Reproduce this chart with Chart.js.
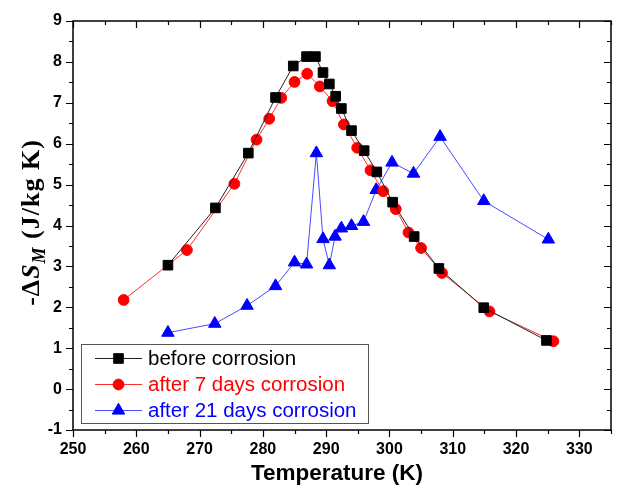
<!DOCTYPE html>
<html>
<head>
<meta charset="utf-8">
<script src="https://cdn.jsdelivr.net/npm/chart.js@4.4.0/dist/chart.umd.min.js"></script>
<style>
  html, body { margin: 0; padding: 0; background: #fff; }
  #wrap { width: 621px; height: 488px; }
</style>
</head>
<body>
<div id="wrap"><canvas id="msChart" width="621" height="488"></canvas></div>
<script>
  // before corrosion
  const tempBefore = [265, 272.5, 277.7, 282.0, 284.8, 286.9, 288.3, 289.5, 290.5, 291.5, 292.4, 294.0, 296.0, 298.0, 300.5, 303.9, 307.8, 314.9, 324.8];
  const dsBefore   = [3.03, 4.43, 5.77, 7.13, 7.90, 8.13, 8.13, 7.74, 7.46, 7.16, 6.86, 6.32, 5.83, 5.31, 4.57, 3.73, 2.95, 1.99, 1.19];

  // after 7 days
  const temp7 = [258, 268, 275.5, 279.0, 281.0, 282.9, 285.0, 287.0, 289.0, 291.0, 292.8, 294.9, 297.0, 299.0, 301.0, 303.0, 305.0, 308.3, 315.8, 325.9];
  const ds7   = [2.18, 3.40, 5.02, 6.10, 6.61, 7.12, 7.51, 7.71, 7.40, 7.04, 6.47, 5.90, 5.35, 4.84, 4.40, 3.83, 3.45, 2.84, 1.90, 1.17];

  // after 21 days
  const temp21 = [265, 272.4, 277.5, 282.0, 285.0, 286.9, 288.45, 289.5, 290.5, 291.4, 292.4, 294.0, 295.9, 297.9, 300.4, 303.8, 308.0, 314.9, 325.1];
  const ds21   = [1.38, 1.60, 2.04, 2.52, 3.10, 3.05, 5.77, 3.67, 3.03, 3.73, 3.93, 3.99, 4.09, 4.87, 5.54, 5.27, 6.17, 4.60, 3.66];

  const seriesNames = ["before corrosion", "after 7 days corrosion", "after 21 days corrosion"];
  const xMin = 250, xMax = 335, yMin = -1, yMax = 9;

  const toPts = (xs, ys) => xs.map((x, i) => ({ x: x, y: ys[i] }));

  const sans = "'Liberation Sans', Arial, sans-serif";
  const serif = "'Liberation Serif', 'Times New Roman', serif";

  // frame, inward/outward ticks, axis titles, boxed legend
  const decor = {
    id: "decor",
    afterDraw(chart) {
      const ctx = chart.ctx;
      const ca = chart.chartArea;
      const xs = chart.scales.x, ys = chart.scales.y;
      ctx.save();
      ctx.strokeStyle = "#000";
      ctx.lineWidth = 1.5;
      ctx.strokeRect(ca.left, ca.top, ca.right - ca.left, ca.bottom - ca.top);
      ctx.lineWidth = 1.2;
      ctx.beginPath();
      for (let v = yMin; v <= yMax + 1e-9; v += 0.5) {
        const py = Math.round(ys.getPixelForValue(v)) + 0.5;
        const len = Number.isInteger(v) ? 7 : 4;
        ctx.moveTo(ca.left - len, py); ctx.lineTo(ca.left, py);
        ctx.moveTo(ca.right - len, py); ctx.lineTo(ca.right, py);
      }
      for (let v = xMin; v <= xMax + 1e-9; v += 5) {
        const px = Math.round(xs.getPixelForValue(v)) + 0.5;
        const len = v % 10 === 0 ? 7 : 4;
        ctx.moveTo(px, ca.bottom); ctx.lineTo(px, ca.bottom + len);
        ctx.moveTo(px, ca.top); ctx.lineTo(px, ca.top + len);
      }
      ctx.stroke();

      // x title
      ctx.fillStyle = "#000";
      ctx.font = "bold 22.5px " + sans;
      ctx.textAlign = "center";
      ctx.textBaseline = "alphabetic";
      ctx.fillText("Temperature (K)", 337, 480);

      // y title: -ΔS_M (J/kg K)
      const parts = [
        { t: "-Δ", f: "bold 26px " + serif, dy: 0 },
        { t: "S", f: "bold italic 26px " + serif, dy: 0 },
        { t: "M", f: "bold italic 18px " + serif, dy: 6 },
        { t: " (J/kg K)", f: "bold 26px " + serif, dy: 0 }
      ];
      ctx.letterSpacing = "1px";
      let total = 0;
      parts.forEach(p => { ctx.font = p.f; p.w = ctx.measureText(p.t).width; total += p.w; });
      ctx.translate(39, (ca.top + ca.bottom) / 2 - 3);
      ctx.rotate(-Math.PI / 2);
      ctx.textAlign = "left";
      let cx = -total / 2;
      parts.forEach(p => { ctx.font = p.f; ctx.fillText(p.t, cx, p.dy); cx += p.w; });
      ctx.setTransform(1, 0, 0, 1, 0, 0);
      ctx.letterSpacing = "0px";

      // legend box
      const bx = 81, by = 344, bw = 287, bh = 79;
      ctx.fillStyle = "#fff";
      ctx.fillRect(bx, by, bw, bh);
      ctx.strokeStyle = "#555";
      ctx.lineWidth = 1;
      ctx.strokeRect(bx + 0.5, by + 0.5, bw, bh);
      chart.data.datasets.forEach((ds, i) => {
        const ry = 358 + i * 26;
        ctx.strokeStyle = ds.borderColor;
        ctx.lineWidth = 1;
        ctx.beginPath();
        ctx.moveTo(95, ry + 0.5); ctx.lineTo(142, ry + 0.5);
        ctx.stroke();
        ctx.fillStyle = ds.pointBackgroundColor;
        ctx.strokeStyle = ds.pointBorderColor;
        Chart.helpers.drawPoint(ctx, { pointStyle: ds.pointStyle, radius: ds.pointRadius, rotation: 0, borderWidth: 1 }, 118.5, ry + 0.5);
        ctx.fillStyle = ds.textColor;
        ctx.font = "20.5px " + sans;
        ctx.textAlign = "left";
        ctx.textBaseline = "middle";
        ctx.fillText(ds.label, 148, ry + 1);
      });
      ctx.restore();
    }
  };

  new Chart(document.getElementById("msChart"), {
    type: "line",
    data: {
      datasets: [{
        label: seriesNames[0],
        data: toPts(tempBefore, dsBefore),
        borderColor: "#222",
        borderWidth: 1,
        pointStyle: "rect",
        pointRadius: 6.8,
        pointBackgroundColor: "#000",
        pointBorderColor: "#000",
        textColor: "#000"
      }, {
        label: seriesNames[1],
        data: toPts(temp7, ds7),
        borderColor: "#ff3030",
        borderWidth: 1,
        pointStyle: "circle",
        pointRadius: 5.4,
        pointBackgroundColor: "#ff0000",
        pointBorderColor: "#ff0000",
        textColor: "#ff0000"
      }, {
        label: seriesNames[2],
        data: toPts(temp21, ds21),
        borderColor: "#4a4aff",
        borderWidth: 1,
        pointStyle: "triangle",
        pointRadius: 7.2,
        pointBackgroundColor: "#0000ff",
        pointBorderColor: "#0000ff",
        textColor: "#0000ff"
      }]
    },
    options: {
      responsive: false,
      animation: false,
      layout: { padding: { top: 21, right: 1, left: 0, bottom: 0 } },
      plugins: { legend: { display: false }, tooltip: { enabled: false } },
      elements: { line: { tension: 0 } },
      scales: {
        x: {
          type: "linear",
          min: xMin, max: xMax,
          grid: { display: false, drawTicks: false },
          border: { display: false },
          afterFit: s => { s.height = 58; },
          ticks: {
            stepSize: 5, autoSkip: false, maxRotation: 0, padding: 10,
            color: "#000", font: { family: sans, size: 16, weight: "bold" },
            callback: v => (v % 10 === 0 ? v : "")
          }
        },
        y: {
          min: yMin, max: yMax,
          grid: { display: false, drawTicks: false },
          border: { display: false },
          afterFit: s => { s.width = 73; },
          ticks: {
            stepSize: 0.5, autoSkip: false, padding: 11,
            color: "#000", font: { family: sans, size: 16, weight: "bold" },
            callback: v => (Number.isInteger(v) ? v : "")
          }
        }
      }
    },
    plugins: [decor]
  });
</script>
</body>
</html>
